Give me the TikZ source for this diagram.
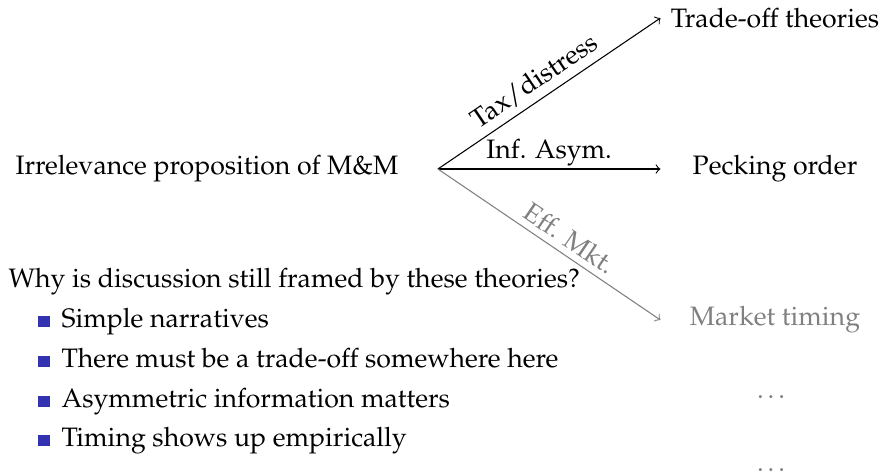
\documentclass[tikz,border=0pt]{standalone}
\usepackage[T1]{fontenc}
\usepackage{mathpazo}
\usetikzlibrary{positioning}
\definecolor{itemblue}{RGB}{51,51,178}
\newcommand{\itembox}{{\color{itemblue}\rule{4.5pt}{4.2pt}}\hspace{4.5pt}}

\begin{document}
\begin{tikzpicture}[x=0.375pt,y=0.375pt,
    every node/.style={font=\fontsize{10}{12}\selectfont,inner sep=0pt},
    theory/.style={minimum width=85.5pt},
    lbl/.style={sloped,above=2.5pt}]
  \useasboundingbox (0,0) rectangle (880,-474);

  \node (mm) at (207,-169) {Irrelevance proposition of M\&M};
  \coordinate[right=14.6pt of mm] (fork);

  \node[theory] (tradeoff) at (775,-18) {Trade-off theories};
  \node[theory] (pecking) at (775,-169) {Pecking order};
  \node[theory,gray] (timing) at (775,-320) {Market timing};
  \node[gray] (more1) at (773,-397) {\dots};
  \node[gray] (more2) at (773,-470) {\dots};

  \draw[->] (fork) -- node[lbl,pos=0.48] {Tax/distress} (tradeoff.west);
  \draw[->] (fork) -- node[above=1pt] {Inf. Asym.} (pecking.west);
  \draw[->,gray] (fork) -- node[lbl,pos=0.55] {Eff. Mkt.} (timing.west);

  % why the theories survive
  \node[anchor=base west] (why) at (8,-287) {Why is discussion still framed by these theories?};
  \node[anchor=base west] (simple) at (37,-327) {\itembox Simple narratives};
  \node[anchor=base west] (somewhere) at (37,-367) {\itembox There must be a trade-off somewhere here};
  \node[anchor=base west] (asym) at (37,-407) {\itembox Asymmetric information matters};
  \node[anchor=base west] (empirics) at (37,-446) {\itembox Timing shows up empirically};
\end{tikzpicture}
\end{document}
